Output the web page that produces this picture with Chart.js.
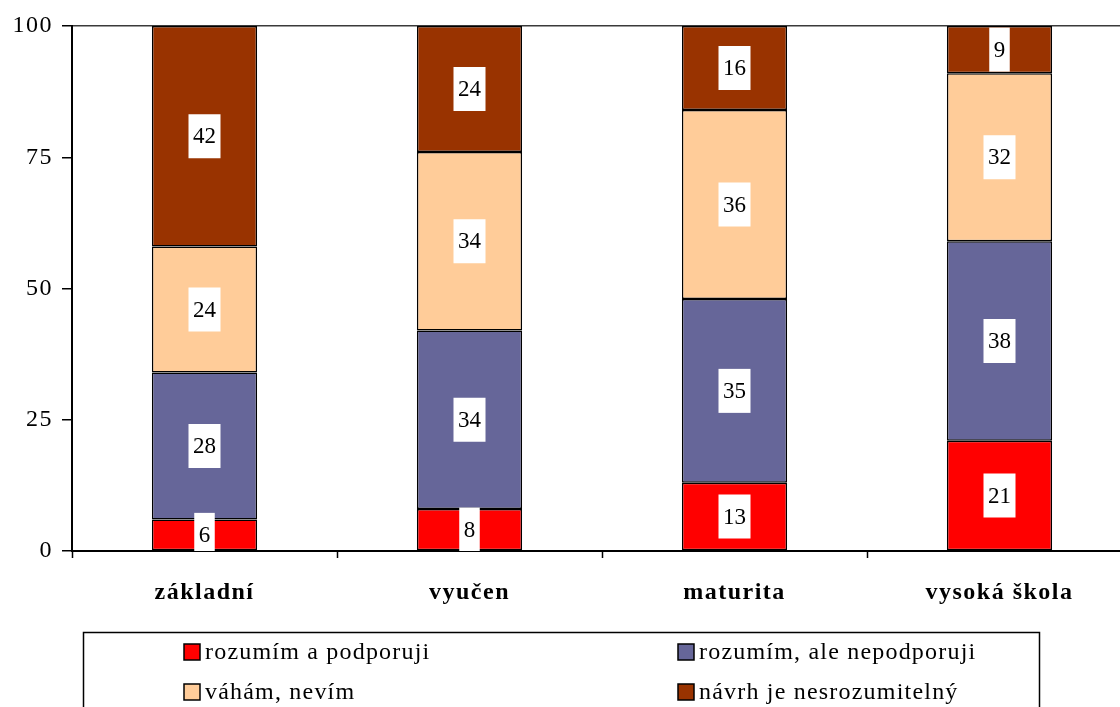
<!DOCTYPE html>
<html>
<head>
<meta charset="utf-8">
<script src="https://cdn.jsdelivr.net/npm/chart.js@4.4.1/dist/chart.umd.min.js"></script>
<style>
  html, body { margin: 0; padding: 0; background: #fff; overflow: hidden; }
  #wrap { position: relative; width: 1132px; height: 707px; }
</style>
</head>
<body>
<div id="wrap"><canvas id="c"></canvas></div>
<script>
const categories = ['základní', 'vyučen', 'maturita', 'vysoká škola'];
const seriesNames = ['rozumím a podporuji', 'rozumím, ale nepodporuji', 'váhám, nevím', 'návrh je nesrozumitelný'];
const supportValues = [6, 8, 13, 21];
const understandNoSupportValues = [28, 34, 35, 38];
const hesitateValues = [24, 34, 36, 32];
const unclearValues = [42, 24, 16, 9];
const yTicks = [0, 25, 50, 75, 100];
const seriesColors = ['#FF0000', '#666699', '#FFCC99', '#993300'];

const FONT = "'Liberation Serif', 'Times New Roman', serif";

const seriesData = [supportValues, understandNoSupportValues, hesitateValues, unclearValues];

const spacingPlugin = {
  id: 'spacing',
  beforeLayout(chart) { chart.ctx.letterSpacing = '1.5px'; },
  beforeDraw(chart) { chart.ctx.letterSpacing = '1.5px'; }
};

const labelPlugin = {
  id: 'boxLabels',
  afterDatasetsDraw(chart) {
    const ctx = chart.ctx;
    const area = chart.chartArea;
    ctx.save();
    ctx.beginPath();
    ctx.rect(area.left, area.top, area.right - area.left, area.bottom - area.top);
    ctx.clip();
    ctx.letterSpacing = '0px';
    ctx.font = '23px ' + FONT;
    ctx.textAlign = 'center';
    ctx.textBaseline = 'middle';
    chart.data.datasets.forEach((ds, di) => {
      const meta = chart.getDatasetMeta(di);
      meta.data.forEach((el, i) => {
        const p = el.getProps(['x', 'y', 'base'], true);
        const cy = (p.y + p.base) / 2;
        const txt = String(ds.data[i]);
        const w = ctx.measureText(txt).width + 9;
        const h = 44;
        ctx.fillStyle = '#FFFFFF';
        ctx.fillRect(p.x - w / 2, cy - h / 2, w, h);
        ctx.fillStyle = '#000000';
        ctx.fillText(txt, p.x, cy + 1);
      });
    });
    ctx.restore();
  }
};

const legendPlugin = {
  id: 'boxLegend',
  afterDraw(chart) {
    const ctx = chart.ctx;
    ctx.save();
    ctx.letterSpacing = '1.2px';
    ctx.strokeStyle = '#000';
    ctx.lineWidth = 1.5;
    ctx.strokeRect(83.5, 632.5, 956, 120);
    const colX = [184, 678];
    const rowY = [652, 692];
    ctx.font = '24px ' + FONT;
    ctx.textAlign = 'left';
    ctx.textBaseline = 'middle';
    chart.data.datasets.forEach((ds, i) => {
      const x = colX[i % 2];
      const y = rowY[Math.floor(i / 2)];
      ctx.fillStyle = ds.backgroundColor;
      ctx.fillRect(x, y - 8, 16, 16);
      ctx.lineWidth = 1.5;
      ctx.strokeStyle = '#000';
      ctx.strokeRect(x, y - 8, 16, 16);
      ctx.fillStyle = '#000';
      ctx.fillText(ds.label, x + 21, y + 1);
    });
    ctx.restore();
  }
};

new Chart(document.getElementById('c'), {
  type: 'bar',
  data: {
    labels: categories,
    datasets: seriesNames.map((name, i) => ({
      label: name,
      data: seriesData[i],
      backgroundColor: seriesColors[i],
      borderColor: '#000000',
      borderWidth: 1.5,
      borderSkipped: false,
      categoryPercentage: 1,
      barPercentage: 0.397
    }))
  },
  options: {
    responsive: true,
    maintainAspectRatio: false,
    animation: false,
    events: [],
    layout: { padding: { top: 26, left: 0, right: 0, bottom: 96 } },
    plugins: {
      legend: { display: false },
      tooltip: { enabled: false }
    },
    scales: {
      x: {
        stacked: true,
        grid: {
          offset: true,
          drawOnChartArea: false,
          drawTicks: true,
          tickLength: 7,
          tickColor: '#000',
          tickWidth: 1.5
        },
        border: { display: true, color: '#000', width: 2 },
        ticks: {
          color: '#000',
          font: { family: FONT, size: 24, weight: 'bold' },
          padding: 20,
          maxRotation: 0
        },
        afterFit(scale) { scale.height = 60; }
      },
      y: {
        stacked: true,
        min: 0,
        max: 100,
        afterBuildTicks(scale) { scale.ticks = yTicks.map(v => ({ value: v })); },
        grid: {
          drawOnChartArea: true,
          color: (c) => (c.tick && c.tick.value === 100) ? '#3a3a3a' : 'rgba(0,0,0,0)',
          lineWidth: 1.5,
          tickLength: 10,
          tickColor: '#000',
          tickWidth: 1.5
        },
        border: { display: true, color: '#000', width: 2 },
        ticks: {
          color: '#000',
          font: { family: FONT, size: 24 },
          padding: 9
        },
        afterFit(scale) { scale.width = 72; }
      }
    }
  },
  plugins: [spacingPlugin, labelPlugin, legendPlugin]
});
</script>
</body>
</html>
